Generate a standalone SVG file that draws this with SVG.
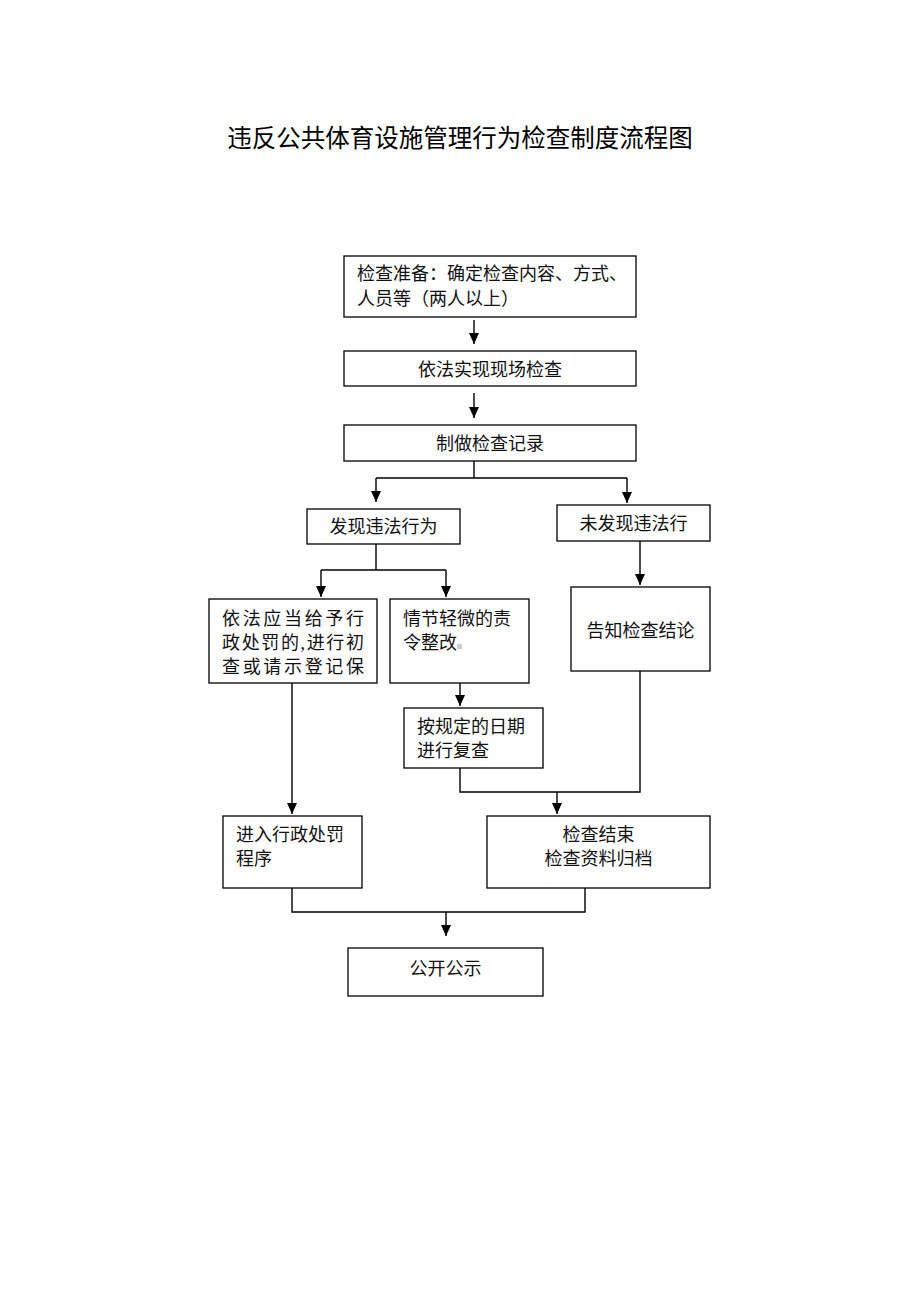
<svg xmlns="http://www.w3.org/2000/svg" width="920" height="1302" viewBox="0 0 920 1302">
<style>
.box{fill:#fff;stroke:#000;stroke-width:1.3}
.t{font-family:"Liberation Serif","Noto Sans CJK SC",serif;font-size:18px;fill:#111}
.c{text-anchor:middle}
.ln{fill:none;stroke:#000;stroke-width:1.4}
</style>
<defs>
<marker id="a" markerUnits="userSpaceOnUse" markerWidth="11" markerHeight="10" refX="11" refY="5" orient="auto" viewBox="0 0 11 10">
<path d="M0,0 L11,5 L0,10 z" fill="#000"/>
</marker>
</defs>
<rect width="920" height="1302" fill="#fff"/>
<text x="460" y="146.5" class="c" style="font-family:'Noto Sans CJK SC',sans-serif;font-size:24.5px;fill:#000">违反公共体育设施管理行为检查制度流程图</text>

<g id="connectors">
<path class="ln" d="M474,320 V344" marker-end="url(#a)"/>
<path class="ln" d="M474,393 V418" marker-end="url(#a)"/>
<path class="ln" d="M474,461 V478 M376,478 H627"/>
<path class="ln" d="M376,478 V502" marker-end="url(#a)"/>
<path class="ln" d="M627,478 V503" marker-end="url(#a)"/>
<path class="ln" d="M376,544 V570 M321,570 H446"/>
<path class="ln" d="M321,570 V597" marker-end="url(#a)"/>
<path class="ln" d="M446,570 V597" marker-end="url(#a)"/>
<path class="ln" d="M640,541 V585" marker-end="url(#a)"/>
<path class="ln" d="M460,683 V706" marker-end="url(#a)"/>
<path class="ln" d="M460,768 V792 H640 V671"/>
<path class="ln" d="M557,792 V814" marker-end="url(#a)"/>
<path class="ln" d="M292,683 V814" marker-end="url(#a)"/>
<path class="ln" d="M292,888 V912 H585 V888"/>
<path class="ln" d="M446,912 V936" marker-end="url(#a)"/>
</g>

<g id="n1"><rect class="box" x="344" y="256" width="292" height="61"/>
<text class="t" x="357" y="280">检查准备：确定检查内容、方式、</text>
<text class="t" x="357" y="305">人员等（两人以上）</text></g>

<g id="n2"><rect class="box" x="344" y="351" width="292" height="35"/>
<text class="t c" x="490" y="375.5">依法实现现场检查</text></g>

<g id="n3"><rect class="box" x="344" y="425" width="292" height="36"/>
<text class="t c" x="490" y="449.5">制做检查记录</text></g>

<g id="n4"><rect class="box" x="307" y="509" width="153" height="35"/>
<text class="t c" x="383.5" y="532.5">发现违法行为</text></g>

<g id="n5"><rect class="box" x="557" y="505" width="153" height="36"/>
<text class="t c" x="633.5" y="529.5">未发现违法行</text></g>

<g id="n6"><rect class="box" x="209" y="599" width="168" height="84"/>
<text class="t" x="222" y="624.5" textLength="142" lengthAdjust="spacing">依法应当给予行</text>
<text class="t" x="222" y="648.5" textLength="142" lengthAdjust="spacing">政处罚的,进行初</text>
<text class="t" x="222" y="672.5" textLength="142" lengthAdjust="spacing">查或请示登记保</text></g>

<g id="n7"><rect class="box" x="390" y="599" width="139" height="84"/>
<text class="t" x="403" y="624.5">情节轻微的责</text>
<text class="t" x="403" y="648.5">令整改</text>
<rect x="457" y="644" width="5" height="5" fill="#ccc"/></g>

<g id="n8"><rect class="box" x="571" y="587" width="139" height="84"/>
<text class="t c" x="640.5" y="636.5">告知检查结论</text></g>

<g id="n9"><rect class="box" x="404" y="708" width="139" height="60"/>
<text class="t" x="417" y="732.5">按规定的日期</text>
<text class="t" x="417" y="756.5">进行复查</text></g>

<g id="n10"><rect class="box" x="223" y="816" width="139" height="72"/>
<text class="t" x="236" y="840.5">进入行政处罚</text>
<text class="t" x="236" y="864.5">程序</text></g>

<g id="n11"><rect class="box" x="487" y="816" width="223" height="72"/>
<text class="t c" x="598.5" y="840.5">检查结束</text>
<text class="t c" x="598.5" y="864.5">检查资料归档</text></g>

<g id="n12"><rect class="box" x="348" y="948" width="195" height="48"/>
<text class="t c" x="445.5" y="974.5">公开公示</text></g>
</svg>
